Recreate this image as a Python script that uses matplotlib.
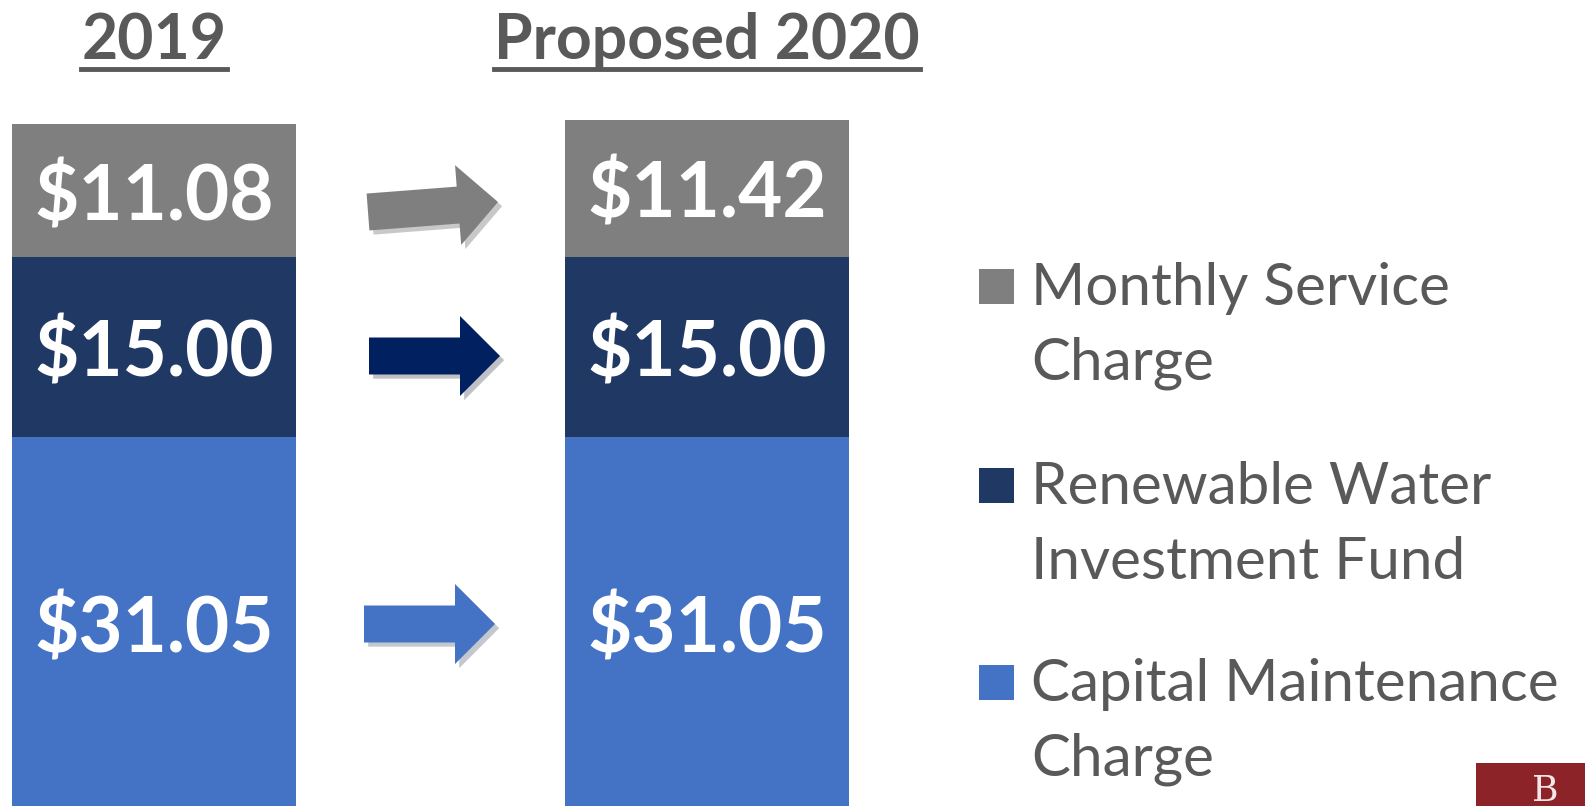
import matplotlib.pyplot as plt
import matplotlib.patheffects as pe
from matplotlib.patches import FancyArrow, Rectangle
from matplotlib.lines import Line2D

#--- Data ---
years = ['2019', 'Proposed 2020']
monthly_service = [11.08, 11.42]
renewable_water = [15.00, 15.00]
capital_maint = [31.05, 31.05]

legend_labels = ['Monthly Service\nCharge',
                 'Renewable Water\nInvestment Fund',
                 'Capital Maintenance\nCharge']

#--- Style ---
c_gray = '#7f7f7f'
c_navy = '#203864'
c_blue = '#4472c4'
c_text = '#595959'
FontName = 'Lato'

W, H = 1585, 806
fig = plt.figure(figsize=(W/100, H/100), dpi=100)

#############################################################
# Stacked bars (data axes filling the whole figure)

ax = fig.add_axes([0, 0, 1, 1])
xpos = [0, 1]
BarWidth = 0.514

b1 = ax.bar(xpos, capital_maint, width=BarWidth, color=c_blue)
b2 = ax.bar(xpos, renewable_water, width=BarWidth, bottom=capital_maint,
            color=c_navy)
bot3 = [a + b for a, b in zip(capital_maint, renewable_water)]
b3 = ax.bar(xpos, monthly_service, width=BarWidth, bottom=bot3,
            color=c_gray)

# value labels, nudged a bit down to sit like the original
for vals, bots in [(capital_maint, [0, 0]),
                   (renewable_water, capital_maint),
                   (monthly_service, bot3)]:
    for x, v, b in zip(xpos, vals, bots):
        ax.text(x, b + v/2 - 0.55, '$%.2f' % v, ha='center', va='center',
                color='white', fontsize=55, fontweight='bold',
                family=FontName)

ax.set_xlim(-0.2785, 2.588)
ax.set_ylim(0.33, 67.5)
ax.axis('off')

#############################################################
# Overlay in pixel coordinates for titles, arrows, legend

ov = fig.add_axes([0, 0, 1, 1], facecolor='none')
ov.set_xlim(0, W)
ov.set_ylim(H, 0)
ov.axis('off')

titles = []
for x, lab in zip([154, 707], years):
    t = ov.text(x, 59, lab, ha='center', va='baseline', fontsize=45,
                fontweight='bold', color=c_text, family=FontName)
    titles.append(t)

fig.canvas.draw()
inv = ov.transData.inverted()
for t in titles:
    bb = t.get_window_extent()
    (x0, _), (x1, _) = inv.transform([[bb.x0, 0], [bb.x1, 0]])
    ov.add_line(Line2D([x0, x1], [69, 69], color=c_text, lw=3.5))

#--- Arrows ---
shadow = [pe.SimplePatchShadow(offset=(3, -3), alpha=0.25), pe.Normal()]
arrows = [(368, 212, 130, -10, c_gray),
          (369, 356, 131, 0, '#002060'),
          (364, 624, 131, 0, c_blue)]
for x, y, dx, dy, col in arrows:
    a = FancyArrow(x, y, dx, dy, width=37, head_width=80, head_length=40,
                   length_includes_head=True, color=col, lw=0)
    a.set_path_effects(shadow)
    ov.add_patch(a)

#--- Legend ---
sq_y = [286, 485, 682]
line_gap = 75
for y, col, lab in zip(sq_y, [c_gray, c_navy, c_blue], legend_labels):
    ov.add_patch(Rectangle((979, y - 17), 35, 35, color=col, lw=0))
    for k, line in enumerate(lab.split('\n')):
        ov.text(1031, y + 19 + k*line_gap, line, ha='left', va='baseline',
                fontsize=42, color=c_text, family=FontName)

#--- Logo corner ---
ov.add_patch(Rectangle((1476, 763), 110, 45, color='#8b2329', lw=0))
ov.text(1545, 801, 'B', ha='center', va='baseline', fontsize=26,
        color='#f2e6e6', family='DejaVu Serif')

plt.savefig('out.png', dpi=100)
plt.close()
